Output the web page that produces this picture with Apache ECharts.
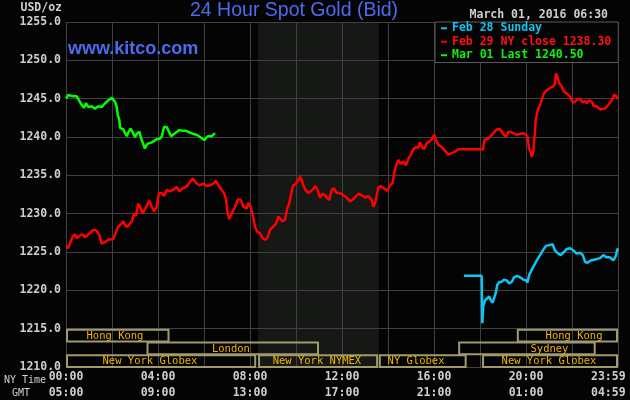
<!DOCTYPE html>
<html>
<head>
<meta charset="utf-8">
<script src="https://cdn.jsdelivr.net/npm/echarts@6/dist/echarts.min.js"></script>
<style>
html,body{margin:0;padding:0;background:#040404;}
#chart{width:630px;height:400px;}
</style>
</head>
<body>
<div id="chart"></div>
<script>
// ---------------- DATA ----------------
// hours since 00:00 NY time
var redHours = [0.03,0.10,0.17,0.29,0.39,0.47,0.53,0.64,0.73,0.83,0.93,1.04,1.19,1.33,1.45,1.55,1.70,1.84,2.06,2.17,2.27,2.42,2.49,2.61,2.71,2.86,2.96,3.04,3.14,3.22,3.33,3.43,3.53,3.62,3.73,3.83,3.94,4.04,4.16,4.26,4.38,4.52,4.71,4.81,4.93,5.07,5.22,5.36,5.51,5.65,5.80,5.97,6.12,6.26,6.40,6.52,6.62,6.77,6.87,6.96,7.03,7.10,7.20,7.35,7.49,7.60,7.71,7.86,7.93,8.03,8.12,8.22,8.32,8.43,8.55,8.65,8.75,8.87,9.01,9.13,9.23,9.33,9.42,9.52,9.62,9.71,9.81,9.88,10.00,10.10,10.17,10.25,10.32,10.43,10.53,10.64,10.75,10.83,10.93,11.04,11.16,11.26,11.36,11.45,11.55,11.65,11.77,11.91,12.06,12.20,12.35,12.49,12.71,12.86,13.00,13.14,13.29,13.36,13.43,13.51,13.58,13.68,13.83,13.97,14.09,14.20,14.27,14.35,14.45,14.55,14.67,14.78,14.88,14.99,15.10,15.22,15.32,15.39,15.48,15.57,15.68,15.80,15.90,16.01,16.09,16.19,16.33,16.48,16.62,16.77,16.91,17.06,18.13,18.19,18.36,18.58,18.73,18.87,19.01,19.13,19.23,19.38,19.57,19.74,19.88,19.99,20.07,20.13,20.22,20.25,20.32,20.35,20.39,20.42,20.51,20.61,20.68,20.78,20.90,21.04,21.19,21.26,21.30,21.36,21.45,21.55,21.65,21.77,21.91,22.03,22.13,22.23,22.35,22.47,22.57,22.64,22.75,22.86,22.96,23.07,23.22,23.43,23.58,23.73,23.83,23.94,23.99];
var redValues = [1225.8,1225.5,1226.1,1227.0,1227.3,1226.8,1226.6,1227.2,1227.3,1226.9,1227.2,1227.5,1227.9,1227.8,1227.2,1226.1,1226.3,1226.6,1226.7,1227.6,1228.3,1228.7,1229.0,1228.3,1228.4,1229.0,1230.0,1229.7,1231.3,1230.9,1230.0,1230.6,1231.1,1231.7,1230.9,1230.3,1230.9,1232.7,1232.7,1232.3,1233.1,1232.9,1233.2,1233.5,1232.9,1233.3,1233.5,1234.0,1234.6,1234.0,1233.7,1233.9,1233.6,1233.7,1233.9,1234.3,1233.7,1233.1,1232.7,1231.8,1230.0,1229.3,1230.0,1230.9,1231.9,1231.8,1230.9,1230.7,1231.4,1230.9,1229.8,1228.3,1227.6,1227.5,1226.8,1226.6,1226.8,1227.9,1228.3,1228.7,1229.6,1229.3,1229.0,1229.2,1230.7,1231.4,1232.9,1233.7,1233.9,1234.4,1234.8,1234.4,1233.7,1233.0,1232.7,1232.9,1233.2,1233.6,1233.2,1232.1,1232.6,1232.4,1232.0,1231.8,1233.1,1233.3,1232.7,1232.7,1232.4,1232.1,1231.6,1231.9,1232.6,1232.4,1232.1,1232.3,1231.8,1230.9,1231.3,1232.4,1233.4,1233.6,1233.3,1233.0,1233.7,1234.0,1235.3,1236.3,1237.0,1236.5,1236.8,1236.3,1237.1,1237.7,1238.4,1238.7,1238.6,1239.3,1238.7,1238.4,1239.2,1239.4,1239.7,1240.3,1239.5,1239.0,1238.7,1238.2,1237.7,1237.9,1238.1,1238.4,1238.4,1239.6,1239.8,1240.5,1241.0,1241.0,1240.4,1240.0,1240.7,1240.6,1240.3,1240.4,1240.5,1240.3,1240.0,1238.5,1237.9,1237.4,1238.1,1239.6,1240.5,1242.2,1243.5,1244.2,1244.8,1245.7,1246.1,1246.4,1246.6,1247.0,1248.3,1247.9,1247.0,1246.6,1245.9,1245.7,1245.3,1244.5,1244.6,1244.9,1245.0,1244.5,1244.7,1244.4,1244.8,1244.6,1244.0,1244.0,1243.6,1243.7,1244.2,1244.8,1245.5,1245.3,1244.9];

var greenHours = [0.00,0.10,0.32,0.47,0.58,0.68,0.78,0.87,0.97,1.12,1.26,1.40,1.55,1.70,1.84,1.99,2.06,2.13,2.20,2.25,2.32,2.35,2.49,2.57,2.64,2.71,2.81,2.90,3.00,3.10,3.19,3.29,3.43,3.53,3.73,3.94,4.09,4.17,4.26,4.38,4.45,4.57,4.74,4.93,5.07,5.22,5.36,5.53,5.68,5.83,6.01,6.16,6.33,6.48];
var greenValues = [1245.0,1245.5,1245.3,1245.3,1244.7,1244.2,1243.8,1244.4,1243.9,1244.0,1243.7,1244.0,1243.9,1244.4,1244.8,1245.1,1245.2,1244.6,1244.0,1242.9,1242.2,1241.2,1241.0,1240.5,1240.1,1240.6,1241.1,1240.6,1240.0,1240.5,1240.7,1239.6,1238.5,1239.1,1239.3,1239.7,1239.8,1240.1,1241.3,1241.3,1241.1,1240.1,1240.5,1240.9,1240.8,1240.8,1240.6,1240.4,1240.3,1240.0,1239.6,1240.1,1240.1,1240.5];

var cyanHours = [17.30,18.07,18.08,18.10,18.14,18.22,18.29,18.40,18.47,18.55,18.62,18.68,18.75,18.84,18.94,19.04,19.16,19.27,19.38,19.48,19.62,19.74,19.88,20.00,20.06,20.14,20.25,20.36,20.49,20.61,20.75,20.87,21.01,21.16,21.26,21.40,21.51,21.65,21.77,21.91,22.06,22.20,22.35,22.47,22.57,22.67,22.81,22.96,23.10,23.22,23.36,23.51,23.65,23.80,23.91,23.96,24.00];
var cyanValues = [1221.9,1221.9,1220.9,1215.7,1217.9,1218.7,1218.9,1219.2,1218.7,1218.4,1218.6,1219.6,1220.7,1221.1,1221.1,1221.4,1221.3,1220.9,1221.1,1221.7,1221.9,1221.7,1221.4,1221.3,1221.0,1222.0,1222.7,1223.3,1224.0,1224.6,1225.3,1225.8,1225.9,1226.0,1225.2,1224.8,1224.6,1225.0,1225.4,1225.5,1225.2,1224.8,1224.9,1224.6,1223.7,1223.6,1223.9,1224.0,1224.1,1224.2,1224.6,1224.3,1224.3,1223.9,1224.5,1225.2,1225.5];

var seriesNames = ['Feb 28 Sunday', 'Feb 29 NY close 1238.30', 'Mar 01 Last 1240.50'];

var tickHours = [0, 4, 8, 12, 16, 20, 24];
var nyTickLabels = ['00:00', '04:00', '08:00', '12:00', '16:00', '20:00', '23:59'];
var gmtTickLabels = ['05:00', '09:00', '13:00', '17:00', '21:00', '01:00', '04:59'];

// trading sessions (hours NY time), row 0 = top
var sessionNames = ['Hong Kong', 'Hong Kong', 'London', 'Sydney', 'New York Globex', 'New York NYMEX', 'NY Globex', 'New York Globex'];
var sessionStart = [0, 19.6, 3.5, 17.05, 0, 8.35, 13.6, 18.09];
var sessionEnd = [4.5, 24, 11.0, 23.03, 8.27, 13.57, 17.42, 24];
var sessionRow = [0, 0, 1, 1, 2, 2, 2, 2];
var sessionLabelAt = [2.13, 22.09, 7.17, 21.02, 3.65, 10.91, 15.22, 21.0];

var pitStart = 8.35, pitEnd = 13.6;

// ---------------- CHART ----------------
var MONO = '"DejaVu Sans Mono", "Liberation Mono", monospace';
var LABEL = '#cfcfcf';
var GRID = '#404040';

function pairs(h, v) { return h.map(function (x, i) { return [x, v[i]]; }); }

var sessionData = sessionNames.map(function (n, i) {
  return [sessionStart[i], sessionEnd[i], sessionRow[i], sessionLabelAt[i]];
});

var chart = echarts.init(document.getElementById('chart'), null, {renderer: 'canvas'});
chart.setOption({
  backgroundColor: '#040404',
  animation: false,
  title: {
    text: '24 Hour Spot Gold (Bid)',
    left: 190, top: 1, padding: 0,
    textStyle: {color: '#4b6cf0', fontFamily: '"Liberation Sans", Arial, sans-serif', fontSize: 19.5, fontWeight: 'normal', lineHeight: 20}
  },
  legend: {
    orient: 'vertical', left: 435, top: 22,
    selectedMode: false,
    icon: 'rect', itemWidth: 6, itemHeight: 2, itemGap: 1,
    padding: [0, 7, 1, 6],
    backgroundColor: '#040404', borderColor: '#5a5a5a', borderWidth: 1, borderRadius: 0,
    textStyle: {fontFamily: MONO, fontSize: 11.5, fontWeight: 'bold', lineHeight: 12.5},
    data: [
      {name: seriesNames[0], textStyle: {color: '#0cc6f4'}},
      {name: seriesNames[1], textStyle: {color: '#ff1010'}},
      {name: seriesNames[2], textStyle: {color: '#10f010'}}
    ]
  },
  grid: {left: 66, right: 12, top: 22, bottom: 33, containLabel: false, outerBoundsMode: 'none'},
  xAxis: {
    type: 'value', min: 0, max: 24, interval: 2,
    axisLine: {show: false}, axisTick: {show: false},
    splitLine: {show: true, lineStyle: {color: GRID, width: 1}},
    axisLabel: {
      show: true, margin: 2, color: LABEL, fontFamily: MONO, fontSize: 11.5, fontWeight: 'bold', lineHeight: 16,
      showMinLabel: true, showMaxLabel: true, hideOverlap: false,
      formatter: function (v) {
        var i = tickHours.indexOf(v);
        if (i < 0) return '';
        if (v === 24) return '{e|' + nyTickLabels[i] + '}\n{e|' + gmtTickLabels[i] + '}';
        return nyTickLabels[i] + '\n' + gmtTickLabels[i];
      },
      rich: {e: {width: 54, align: 'left', color: LABEL, fontFamily: MONO, fontSize: 11.5, fontWeight: 'bold', lineHeight: 16}}
    }
  },
  yAxis: {
    type: 'value', min: 1210, max: 1255, interval: 5,
    name: 'USD/oz', nameLocation: 'end', nameGap: 14,
    nameTextStyle: {color: LABEL, fontFamily: MONO, fontSize: 11.5, fontWeight: 'bold', align: 'right', verticalAlign: 'middle', padding: [0, 4, 0, 0]},
    axisLine: {show: false}, axisTick: {show: false},
    splitLine: {show: true, lineStyle: {color: GRID, width: 1}},
    axisLabel: {margin: 5, color: LABEL, fontFamily: MONO, fontSize: 11.5, fontWeight: 'bold', formatter: function (v) { return v.toFixed(1); }}
  },
  graphic: [
    {type: 'text', style: {text: 'www.kitco.com', x: 68, y: 49, verticalAlign: 'middle', fill: '#4b6cf0', font: 'bold 18px "Liberation Sans", Arial, sans-serif'}, z: 10},
    {type: 'text', style: {text: 'March 01, 2016 06:30', x: 608, y: 15, align: 'right', verticalAlign: 'middle', fill: LABEL, font: 'bold 11.5px ' + MONO}, z: 10},
    {type: 'text', style: {text: 'NY Time', x: 4, y: 380, verticalAlign: 'middle', fill: LABEL, font: '10px ' + MONO}, z: 10},
    {type: 'text', style: {text: 'GMT', x: 12, y: 393, verticalAlign: 'middle', fill: LABEL, font: '10px ' + MONO}, z: 10}
  ],
  series: [
    {
      name: 'pit', type: 'line', data: [], z: -1, zlevel: 0, silent: true,
      markArea: {silent: true, z: -5, itemStyle: {color: '#151815'}, data: [[{xAxis: pitStart}, {xAxis: pitEnd}]]}
    },
    {
      name: 'sessions', type: 'custom', silent: true, z: 3, data: sessionData,
      encode: {x: [0, 1], y: 2},
      renderItem: function (params, api) {
        var s = api.value(0), e = api.value(1), row = api.value(2), lab = api.value(3);
        var top = 1215 - row * 5 / 3, bot = top - 5 / 3;
        var p1 = api.coord([s, top]), p2 = api.coord([e, bot]);
        var lx = api.coord([lab, bot])[0];
        return {
          type: 'group',
          children: [
            {type: 'rect', shape: {x: p1[0] + 1, y: p1[1] + 1, width: p2[0] - p1[0] - 2, height: p2[1] - p1[1] - 1},
             style: {fill: null, stroke: '#a09a6c', lineWidth: 2}},
            {type: 'text', style: {text: sessionNames[params.dataIndex], x: lx, y: (p1[1] + p2[1]) / 2 + 1, align: 'center', verticalAlign: 'middle',
             fill: '#f0b400', font: '10.5px ' + MONO}}
          ]
        };
      }
    },
    {name: seriesNames[0], type: 'line', data: pairs(cyanHours, cyanValues), showSymbol: false, color: '#0cc6f4', lineStyle: {width: 2.5, color: '#0cc6f4'}, z: 5},
    {name: seriesNames[1], type: 'line', data: pairs(redHours, redValues), showSymbol: false, color: '#ff0000', lineStyle: {width: 2.5, color: '#ff0000'}, z: 5},
    {name: seriesNames[2], type: 'line', data: pairs(greenHours, greenValues), showSymbol: false, color: '#00ff00', lineStyle: {width: 2.5, color: '#00ff00'}, z: 5}
  ]
});
</script>
</body>
</html>
